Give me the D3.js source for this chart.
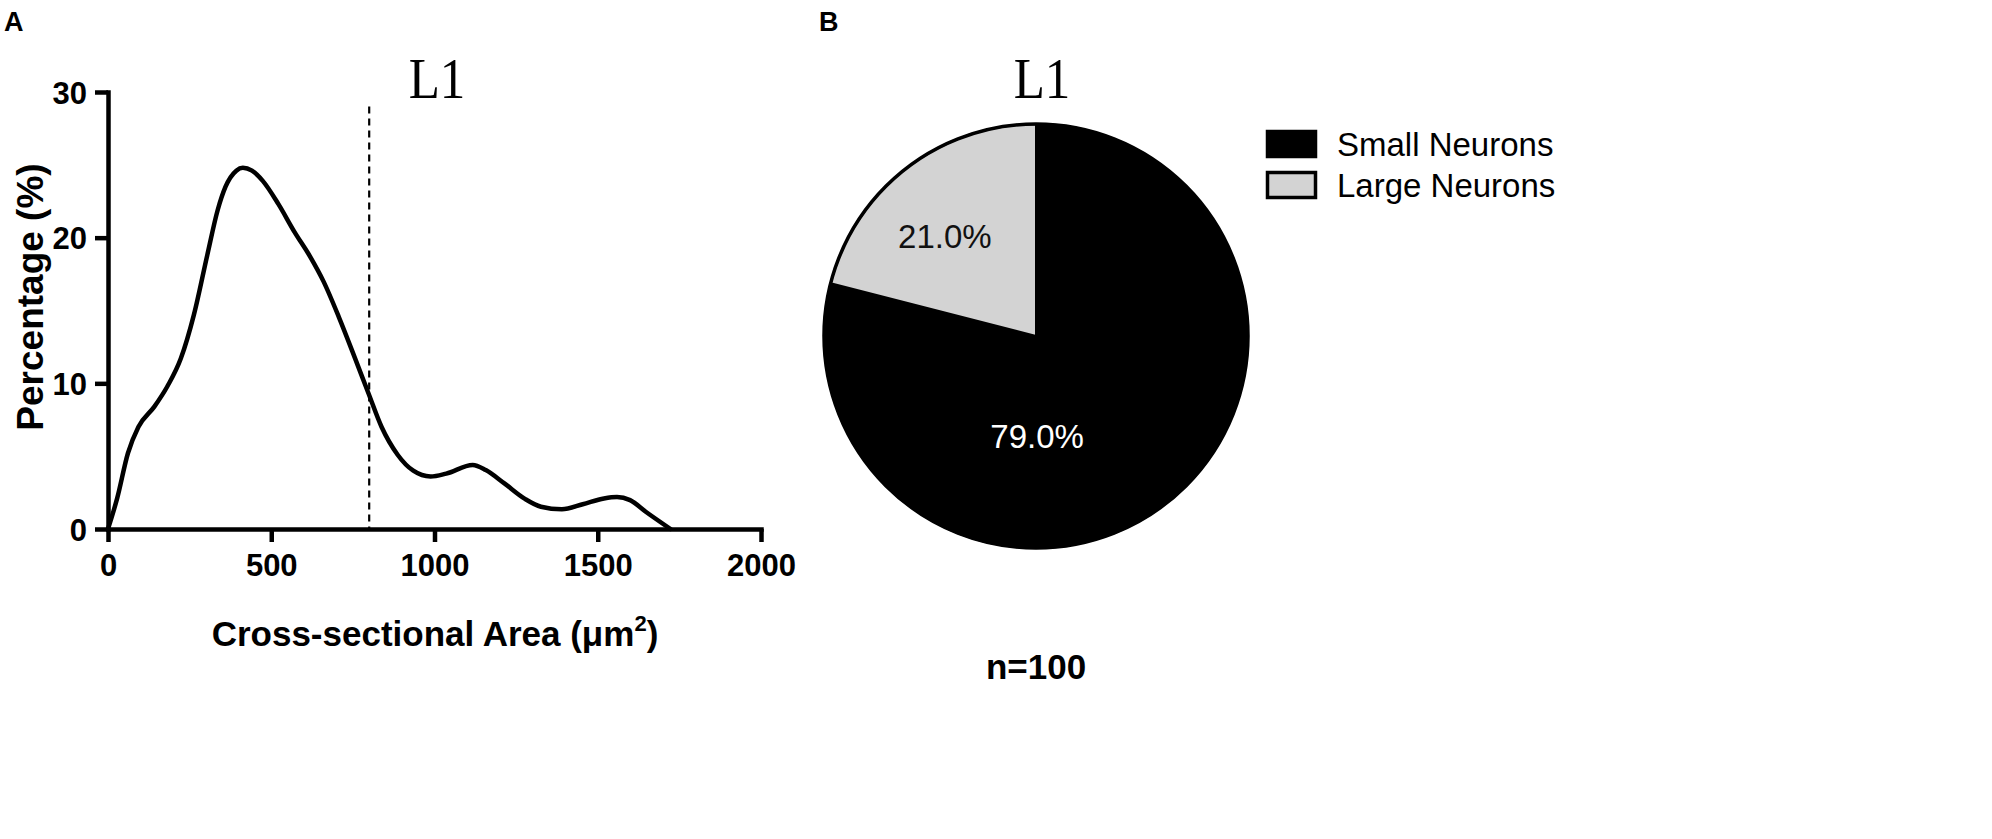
<!DOCTYPE html>
<html>
<head>
<meta charset="utf-8">
<script src="https://cdn.jsdelivr.net/npm/d3@7"></script>
<style>
  html, body { margin: 0; padding: 0; background: #fff; }
  svg { display: block; }
</style>
</head>
<body>
<svg id="chart" width="1992" height="839" font-family='"Liberation Sans", Arial, Helvetica, sans-serif'></svg>
<script>
// ---------- DATA ----------
const areaValues = [0, 28, 61, 93, 142, 182, 223, 263, 304, 336, 360, 393, 413, 441, 474, 522, 571, 619, 660, 708, 757, 798, 838, 887, 935, 988, 1036, 1117, 1157, 1213, 1277, 1326, 1390, 1454, 1519, 1559, 1599, 1648, 1723];
const percentValues = [0, 2.1, 5.2, 7.0, 8.4, 9.8, 11.7, 14.7, 18.8, 21.9, 23.5, 24.6, 24.8, 24.6, 23.9, 22.3, 20.4, 18.7, 17.0, 14.5, 11.7, 9.3, 7.0, 5.1, 4.0, 3.6, 3.8, 4.4, 4.05, 3.15, 2.07, 1.53, 1.35, 1.7, 2.1, 2.2, 1.98, 1.17, 0];
const cutoffArea = 800;
const xTicks = [0, 500, 1000, 1500, 2000];
const yTicks = [0, 10, 20, 30];
const pieCategories = ["Small Neurons", "Large Neurons"];
const pieValues = [79.0, 21.0];
const pieColors = ["#000000", "#d3d3d3"];
const pieLabelColors = ["#ffffff", "#111111"];
const panelTitle = "L1";
const sampleSize = "n=100";

// ---------- SETUP ----------
const svg = d3.select("#chart");
const FONT = '"Liberation Sans", Arial, Helvetica, sans-serif';
const SERIF = '"Liberation Serif", "Times New Roman", serif';

// Panel letters
svg.append("text").attr("x", 4).attr("y", 31).attr("font-size", 27).attr("font-weight", "bold").text("A");
svg.append("text").attr("x", 819).attr("y", 31).attr("font-size", 27).attr("font-weight", "bold").text("B");

// ---------- PANEL A : line chart ----------
const x = d3.scaleLinear().domain([0, 2000]).range([108, 761]);
const y = d3.scaleLinear().domain([0, 30]).range([529, 92]);

const gx = svg.append("g").attr("transform", `translate(0,${y(0)})`)
  .call(d3.axisBottom(x).tickValues(xTicks).tickSize(13).tickSizeOuter(0).tickPadding(10).tickFormat(d3.format("d")));
const gy = svg.append("g").attr("transform", `translate(${x(0)},0)`)
  .call(d3.axisLeft(y).tickValues(yTicks).tickSize(13).tickSizeOuter(0).tickPadding(8).tickFormat(d3.format("d")));

[gx, gy].forEach(g => {
  g.attr("font-family", FONT);
  g.select(".domain").attr("stroke", "#000").attr("stroke-width", 4.5).attr("stroke-linecap", "square");
  g.selectAll(".tick line").attr("stroke", "#000").attr("stroke-width", 4.5);
  g.selectAll(".tick text").attr("fill", "#000")
    .attr("font-weight", "bold").attr("font-size", 31);
});
gx.selectAll(".tick text").attr("dy", "0.78em");
gy.selectAll(".tick text").attr("dy", "0.36em");

// Dashed cutoff line
svg.append("line")
  .attr("x1", x(cutoffArea)).attr("x2", x(cutoffArea))
  .attr("y1", y(29)).attr("y2", y(0))
  .attr("stroke", "#000").attr("stroke-width", 2.2).attr("stroke-dasharray", "7,5");

// Curve
const pts = areaValues.map((a, i) => [a, percentValues[i]]);
const line = d3.line().x(d => x(d[0])).y(d => y(d[1])).curve(d3.curveMonotoneX);
svg.append("path").datum(pts)
  .attr("d", line).attr("fill", "none").attr("stroke", "#000")
  .attr("stroke-width", 4.5).attr("stroke-linejoin", "round").attr("stroke-linecap", "round");

// Axis titles
const xt = svg.append("text").attr("x", 435).attr("y", 646).attr("text-anchor", "middle")
  .attr("font-size", 35).attr("font-weight", "bold");
xt.append("tspan").text("Cross-sectional Area (\u03BCm");
xt.append("tspan").attr("font-size", 22).attr("dy", -15).text("2");
xt.append("tspan").attr("dy", 15).text(")");

svg.append("text").attr("transform", "translate(43,297) rotate(-90)")
  .attr("text-anchor", "middle").attr("font-size", 37).attr("font-weight", "bold")
  .text("Percentage (%)");

// Title L1 (A)
svg.append("text").attr("transform", "translate(437,98) scale(0.88,1)")
  .attr("text-anchor", "middle").style("font-family", SERIF).attr("font-size", 58).text(panelTitle);

// ---------- PANEL B : pie ----------
const cx = 1036, cy = 336, R = 212;
const pie = d3.pie().sort(null).value(d => d.v)
  .startAngle(0).endAngle(2 * Math.PI);
const pieData = pie(pieCategories.map((c, i) => ({ c, v: pieValues[i], i })));
const arc = d3.arc().innerRadius(0).outerRadius(R);
const gp = svg.append("g").attr("transform", `translate(${cx},${cy})`);
gp.selectAll("path.slice").data(pieData).join("path").attr("class", "slice")
  .attr("d", arc).attr("fill", (d, i) => pieColors[i]).attr("stroke", "#000").attr("stroke-width", 2);
gp.append("circle").attr("r", R).attr("fill", "none").attr("stroke", "#000").attr("stroke-width", 3.5);

// pie labels (positions as fractions of radius)
const labelPos = [[0.005, 0.47], [-0.43, -0.47]];
gp.selectAll("text.plab").data(pieData).join("text").attr("class", "plab")
  .attr("x", (d, i) => labelPos[i][0] * R)
  .attr("y", (d, i) => labelPos[i][1] * R)
  .attr("dy", "0.36em")
  .attr("text-anchor", "middle").attr("font-size", 33)
  .attr("fill", (d, i) => pieLabelColors[i])
  .text(d => d.data.v.toFixed(1) + "%");

// Title L1 (B)
svg.append("text").attr("transform", "translate(1042,98) scale(0.88,1)")
  .attr("text-anchor", "middle").style("font-family", SERIF).attr("font-size", 58).text(panelTitle);

// n=100
svg.append("text").attr("x", 1036).attr("y", 679).attr("text-anchor", "middle")
  .attr("font-size", 35).attr("font-weight", "bold").text(sampleSize);

// Legend
const lg = svg.append("g");
const legRows = lg.selectAll("g").data(pieCategories).join("g")
  .attr("transform", (d, i) => `translate(1266,${130 + i * 41})`);
legRows.append("rect").attr("x", 1.5).attr("y", 1.5).attr("width", 48).attr("height", 25)
  .attr("fill", (d, i) => pieColors[i]).attr("stroke", "#000").attr("stroke-width", 3.5);
legRows.append("text").attr("x", 71).attr("y", 26).attr("font-size", 33).text(d => d);
</script>
</body>
</html>
